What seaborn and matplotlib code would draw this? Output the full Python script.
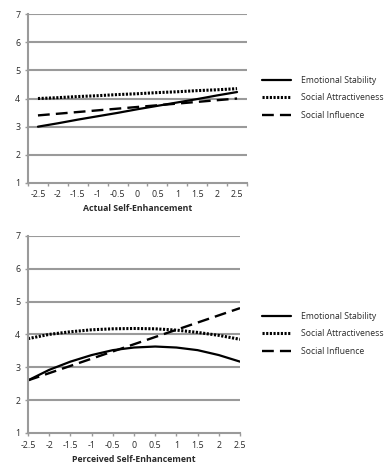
import matplotlib
matplotlib.use("Agg")
import matplotlib.pyplot as plt
import seaborn as sns
import pandas as pd
from matplotlib.ticker import FixedLocator

# Predictor levels (category positions)
x_levels = [-2.5, -2, -1.5, -1, -0.5, 0, 0.5, 1, 1.5, 2, 2.5]
x_labels = ["-2.5", "-2", "-1.5", "-1", "-0.5", "0", "0.5", "1", "1.5", "2", "2.5"]

series_names = ["Emotional Stability", "Social Attractiveness", "Social Influence"]

# Predicted outcomes for actual self-enhancement
actual_es = [3.00, 3.12, 3.25, 3.37, 3.49, 3.62, 3.74, 3.86, 3.98, 4.11, 4.23]
actual_sa = [4.00, 4.03, 4.07, 4.10, 4.14, 4.17, 4.21, 4.24, 4.28, 4.31, 4.35]
actual_si = [3.40, 3.46, 3.52, 3.58, 3.64, 3.70, 3.76, 3.82, 3.88, 3.94, 4.00]

# Predicted outcomes for perceived self-enhancement
perc_es = [2.60, 2.92, 3.17, 3.37, 3.52, 3.60, 3.63, 3.60, 3.52, 3.37, 3.17]
perc_sa = [3.87, 4.00, 4.08, 4.14, 4.17, 4.18, 4.17, 4.13, 4.06, 3.97, 3.85]
perc_si = [2.60, 2.82, 3.04, 3.26, 3.48, 3.70, 3.92, 4.14, 4.36, 4.58, 4.80]

y_ticks = [1, 2, 3, 4, 5, 6, 7]

sns.set_theme(style="white")
plt.rcParams["font.family"] = ["Open Sans", "DejaVu Sans"]

GRID = "#9a9a9a"
TXT = "#2a2a2a"

line_styles = {
    "Emotional Stability": dict(linestyle="-", linewidth=1.6),
    "Social Attractiveness": dict(linestyle=(0, (0.7, 0.5)), linewidth=2.2),
    "Social Influence": dict(linestyle=(0, (5, 2.6)), linewidth=1.7),
}


def make_frame(values):
    rows = []
    for name, vals in zip(series_names, values):
        for x, v in zip(x_levels, vals):
            rows.append({"x": x, "value": v, "series": name})
    return pd.DataFrame(rows)


def draw_panel(fig, ax, df, xlabel, xlim, boundary_ticks, legend_y):
    for name in series_names:
        sub = df[df["series"] == name]
        sns.lineplot(data=sub, x="x", y="value", ax=ax, color="black",
                     label=name, **line_styles[name])
    ax.set_xlim(*xlim)
    ax.set_ylim(1, 7)
    ax.set_yticks(y_ticks)
    ax.set_yticklabels([str(t) for t in y_ticks])
    ax.set_xticks(x_levels)
    ax.set_xticklabels(x_labels)
    for t in y_ticks[1:]:
        ax.axhline(t, color=GRID, lw=1.5, zorder=0)
    for s in ["top", "right"]:
        ax.spines[s].set_visible(False)
    for s in ["left", "bottom"]:
        ax.spines[s].set_color(GRID)
        ax.spines[s].set_linewidth(1.5)
    if boundary_ticks:
        ax.tick_params(axis="x", which="major", length=0, pad=5)
        bounds = [xlim[0] + 0.5 * k for k in range(12)]
        ax.xaxis.set_minor_locator(FixedLocator(bounds))
        ax.tick_params(axis="x", which="minor", length=2.5, width=1, color=GRID,
                       bottom=True)
    else:
        ax.tick_params(axis="x", which="major", length=2.5, width=1, color=GRID,
                       bottom=True, pad=3)
    ax.tick_params(axis="y", which="major", length=2.5, width=1, color=GRID,
                   left=True, pad=3)
    ax.tick_params(labelsize=6.4, labelcolor=TXT)
    ax.set_xlabel(xlabel, fontsize=6.3, fontweight="bold", color=TXT, labelpad=4)
    ax.set_ylabel("")
    leg = ax.legend(loc="center left", bbox_to_anchor=(262 / 389, legend_y),
                    bbox_transform=fig.transFigure, borderaxespad=0,
                    borderpad=0, frameon=False, fontsize=6.2, handlelength=3.4,
                    handletextpad=1.1, labelspacing=0.95, labelcolor=TXT)
    for h in leg.get_lines():
        h.set_color("black")


fig = plt.figure(figsize=(3.89, 4.68), dpi=100)
ax_top = fig.add_axes([0.072, 0.609, 0.563, 0.361])
ax_bot = fig.add_axes([0.072, 0.075, 0.545, 0.421])

draw_panel(fig, ax_top, make_frame([actual_es, actual_sa, actual_si]),
           "Actual Self-Enhancement", (-2.75, 2.75), True, 1 - 98 / 468)
draw_panel(fig, ax_bot, make_frame([perc_es, perc_sa, perc_si]),
           "Perceived Self-Enhancement", (-2.5, 2.5), False, 1 - 334 / 468)

fig.savefig("out.png", dpi=100, facecolor="white")
